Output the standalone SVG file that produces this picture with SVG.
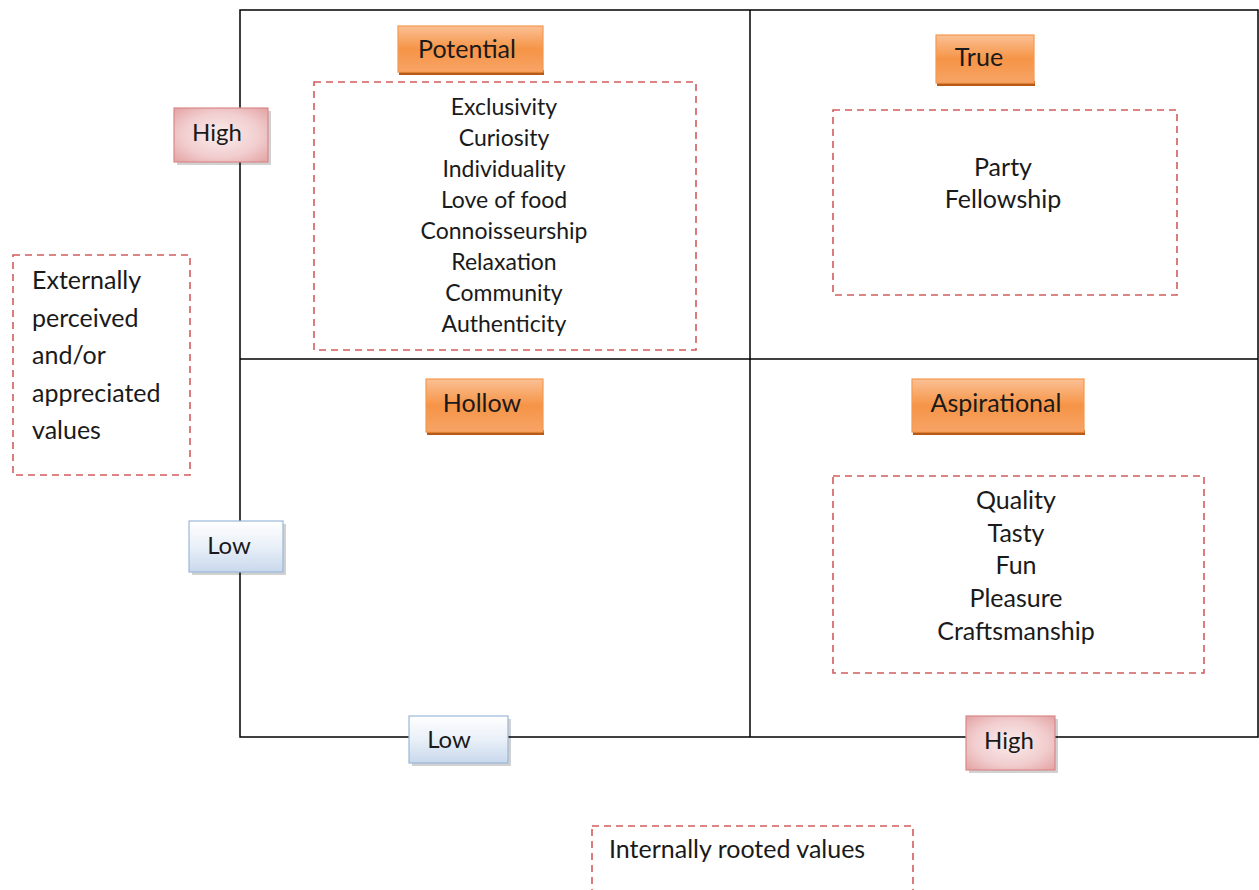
<svg xmlns="http://www.w3.org/2000/svg" width="1259" height="890" viewBox="0 0 1259 890">
  <style>
    text { font-family: Lato, "Open Sans", "Liberation Sans", sans-serif; font-size: 25px; fill: #1a1a1a; }
    .c { text-anchor: middle; }
    .sm { font-size: 23px; }
    .lvl { font-size: 24px; }
    .grid { fill: none; stroke: #000; stroke-width: 1.5; }
    .dash { fill: none; stroke: #d25d5d; stroke-width: 1.6; stroke-dasharray: 7 5; }
    .title { fill: url(#orange); stroke: #f39a50; stroke-width: 1.2; }
    .tshadow { fill: #b85a16; }
    .hi { fill: url(#pink); stroke: #d9888a; stroke-width: 1.2; }
    .lo { fill: url(#blue); stroke: #9bb8d9; stroke-width: 1.2; }
    .sh { fill: #000; opacity: 0.18; }
  </style>
  <defs>
    <linearGradient id="orange" x1="0" y1="0" x2="0" y2="1">
      <stop offset="0" stop-color="#fbc095"/>
      <stop offset="0.5" stop-color="#f69446"/>
      <stop offset="1" stop-color="#f7a467"/>
    </linearGradient>
    <radialGradient id="pink" cx="0.5" cy="0.5" r="0.7">
      <stop offset="0" stop-color="#fbeeee"/>
      <stop offset="0.6" stop-color="#f1cccd"/>
      <stop offset="1" stop-color="#e3a2a3"/>
    </radialGradient>
    <linearGradient id="blue" x1="0" y1="0" x2="0" y2="1">
      <stop offset="0" stop-color="#ffffff"/>
      <stop offset="0.5" stop-color="#e9f0f8"/>
      <stop offset="1" stop-color="#c8d8ec"/>
    </linearGradient>
  </defs>

  <!-- matrix frame and dividers -->
  <g id="connectors">
    <rect class="grid" x="240" y="10" width="1018" height="727"/>
    <line class="grid" x1="750" y1="10" x2="750" y2="737"/>
    <line class="grid" x1="240" y1="359" x2="1258" y2="359"/>
  </g>

  <!-- quadrant titles -->
  <g id="potential">
    <rect class="tshadow" x="399" y="70" width="145" height="5"/>
    <rect class="title" x="398" y="26" width="145" height="46"/>
    <text class="c" x="467" y="58">Potential</text>
  </g>
  <g id="true">
    <rect class="tshadow" x="937" y="81" width="98" height="5"/>
    <rect class="title" x="936" y="35" width="98" height="48"/>
    <text class="c" x="979" y="66">True</text>
  </g>
  <g id="hollow">
    <rect class="tshadow" x="427" y="430" width="117" height="5"/>
    <rect class="title" x="426" y="379" width="117" height="53"/>
    <text class="c" x="482" y="412">Hollow</text>
  </g>
  <g id="aspirational">
    <rect class="tshadow" x="913" y="430" width="172" height="5"/>
    <rect class="title" x="912" y="379" width="172" height="53"/>
    <text class="c" x="996" y="412">Aspirational</text>
  </g>

  <!-- value lists -->
  <g id="potential-values">
    <rect class="dash" x="314" y="82" width="382" height="268"/>
    <text class="c sm" x="504" y="115">Exclusivity</text>
    <text class="c sm" x="504" y="146">Curiosity</text>
    <text class="c sm" x="504" y="177">Individuality</text>
    <text class="c sm" x="504" y="208">Love of food</text>
    <text class="c sm" x="504" y="239">Connoisseurship</text>
    <text class="c sm" x="504" y="270">Relaxation</text>
    <text class="c sm" x="504" y="301">Community</text>
    <text class="c sm" x="504" y="332">Authenticity</text>
  </g>
  <g id="true-values">
    <rect class="dash" x="833" y="110" width="344" height="185"/>
    <text class="c" x="1003" y="176">Party</text>
    <text class="c" x="1003" y="208">Fellowship</text>
  </g>
  <g id="aspirational-values">
    <rect class="dash" x="833" y="476" width="371" height="197"/>
    <text class="c" x="1016" y="509">Quality</text>
    <text class="c" x="1016" y="542">Tasty</text>
    <text class="c" x="1016" y="574">Fun</text>
    <text class="c" x="1016" y="607">Pleasure</text>
    <text class="c" x="1016" y="640">Craftsmanship</text>
  </g>

  <!-- axis level markers -->
  <g id="y-high">
    <rect class="sh" x="177" y="111" width="94" height="54"/>
    <rect class="hi" x="174" y="108" width="94" height="54"/>
    <text class="c lvl" x="217" y="141">High</text>
  </g>
  <g id="y-low">
    <rect class="sh" x="192" y="524" width="94" height="51"/>
    <rect class="lo" x="189" y="521" width="94" height="51"/>
    <text class="c lvl" x="229" y="554">Low</text>
  </g>
  <g id="x-low">
    <rect class="sh" x="412" y="719" width="99" height="47"/>
    <rect class="lo" x="409" y="716" width="99" height="47"/>
    <text class="c lvl" x="449" y="748">Low</text>
  </g>
  <g id="x-high">
    <rect class="sh" x="969" y="719" width="89" height="54"/>
    <rect class="hi" x="966" y="716" width="89" height="54"/>
    <text class="c lvl" x="1009" y="749">High</text>
  </g>

  <!-- axis captions -->
  <g id="y-axis-label">
    <rect class="dash" x="13" y="255" width="177" height="220"/>
    <text x="32" y="289">Externally</text>
    <text x="32" y="327">perceived</text>
    <text x="32" y="364">and/or</text>
    <text x="32" y="402">appreciated</text>
    <text x="32" y="439">values</text>
  </g>
  <g id="x-axis-label">
    <rect class="dash" x="592" y="826" width="321" height="80"/>
    <text x="609" y="858">Internally rooted values</text>
  </g>
</svg>
